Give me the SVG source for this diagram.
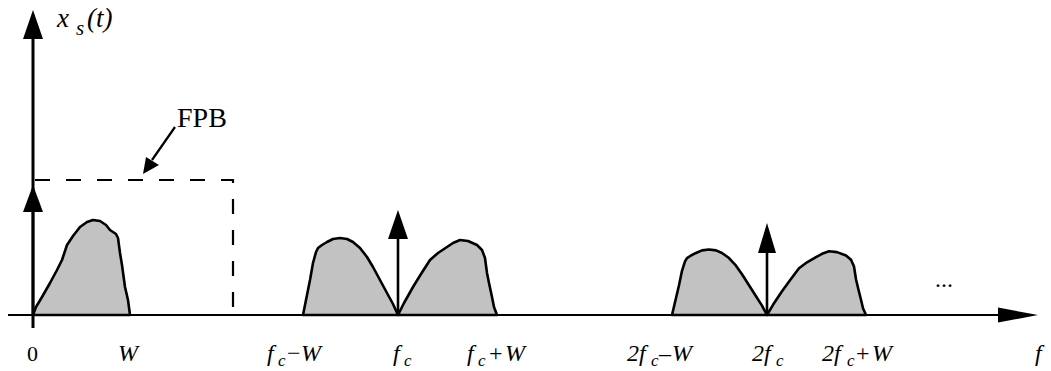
<svg xmlns="http://www.w3.org/2000/svg" width="1051" height="371" viewBox="0 0 1051 371">
<style>
.ax{stroke:#000;stroke-width:2.2;fill:none}
.lobe{fill:#c2c2c2;stroke:#000;stroke-width:2.6;stroke-linejoin:round}
.imp{stroke:#000;stroke-width:2.6;fill:none}
.head{fill:#000}
.t{font-family:"Liberation Serif","Times New Roman",serif;font-size:24px;fill:#000}
.i{font-style:italic}
.n{font-style:normal}
.sub{font-size:17px}
</style>
<rect width="1051" height="371" fill="#fff"/>
<g id="connectors">
  <g id="x-axis">
    <line class="ax" x1="8" y1="315" x2="1000" y2="315"/>
    <polygon class="head" points="1038,315 998,307.5 998,322.5"/>
  </g>
  <g id="y-axis">
    <line class="ax" x1="33" y1="328" x2="33" y2="38" style="stroke-width:3"/>
    <polygon class="head" points="33,10 23,39 43,39"/>
  </g>
  <g id="fpb-filter">
    <path d="M35,180 H233 V315" fill="none" stroke="#000" stroke-width="2.2" stroke-dasharray="15 16"/>
  </g>
  <g id="fpb-arrow">
    <line x1="175" y1="127" x2="152" y2="160" stroke="#000" stroke-width="2.2"/>
    <polygon class="head" points="143,174 146,157 159,165"/>
  </g>
</g>
<g id="lobe-0">
  <path class="lobe" d="M33,315 L36,307 L42,297 L50,283 L57,270 L62,260 L67,245 L73,236 L80,227 L87,222 L93,220 L100,221 L106,225 L110,230 L116,234 L118,238 L120,253 L122,265 L125,287 L128,300 L130,315 Z"/>
</g>
<g id="impulse-0">
  <line class="imp" x1="33" y1="315" x2="33" y2="210"/>
  <polygon class="head" points="33,185 23,212 43,212"/>
</g>
<g id="lobes-fc">
  <path class="lobe" d="M303,315 L307,295 L310,280 L313,263 L316,252 L318,248 L322,245 L327,242 L333,239 L340,238 L347,239 L353,242 L360,248 L367,257 L373,267 L380,280 L387,293 L393,304 L398,315 Z"/>
  <path class="lobe" d="M398,315 L404,303 L413,287 L421,274 L430,260 L438,253 L447,247 L453,243 L460,240 L468,241 L477,245 L482,250 L485,258 L487,273 L489,283 L492,297 L494,307 L497,315 Z"/>
</g>
<g id="impulse-fc">
  <line class="imp" x1="398" y1="315" x2="398" y2="236"/>
  <polygon class="head" points="398,210 388,239 408,239"/>
</g>
<g id="lobes-2fc" transform="translate(369,315) scale(1,0.85) translate(0,-315)">
  <path class="lobe" vector-effect="non-scaling-stroke" d="M303,315 L307,295 L310,280 L313,263 L316,252 L318,248 L322,245 L327,242 L333,239 L340,238 L347,239 L353,242 L360,248 L367,257 L373,267 L380,280 L387,293 L393,304 L398,315 Z"/>
  <path class="lobe" vector-effect="non-scaling-stroke" d="M398,315 L404,303 L413,287 L421,274 L430,260 L438,253 L447,247 L453,243 L460,240 L468,241 L477,245 L482,250 L485,258 L487,273 L489,283 L492,297 L494,307 L497,315 Z"/>
</g>
<g id="impulse-2fc">
  <line class="imp" x1="767" y1="315" x2="767" y2="250"/>
  <polygon class="head" points="767,223 758,253 776,253"/>
</g>
<g id="labels">
  <g id="label-xs"><text class="t i" x="57" y="27" style="font-size:27px">x<tspan class="sub" x="76" y="35" style="font-size:21px">s</tspan><tspan x="87" y="27">(t)</tspan></text></g>
  <g id="label-fpb"><text class="t" x="177" y="127" style="font-size:28px">FPB</text></g>
  <g id="label-0"><text class="t" x="27" y="361" style="font-size:22px">0</text></g>
  <g id="label-W"><text class="t i" x="118" y="361">W</text></g>
  <g id="label-fc-minus"><text class="t i" x="267" y="361">f<tspan class="sub" x="278" y="366">c</tspan><tspan class="n" x="287" y="361">−</tspan><tspan x="301" y="361">W</tspan></text></g>
  <g id="label-fc"><text class="t i" x="393" y="361">f<tspan class="sub" x="404" y="366">c</tspan></text></g>
  <g id="label-fc-plus"><text class="t i" x="467" y="361">f<tspan class="sub" x="478" y="366">c</tspan><tspan class="n" x="489" y="361">+</tspan><tspan x="505" y="361">W</tspan></text></g>
  <g id="label-2fc-minus"><text class="t i" x="627" y="361">2f<tspan class="sub" x="651" y="366">c</tspan><tspan class="n" x="659" y="361">–</tspan><tspan x="672" y="361">W</tspan></text></g>
  <g id="label-2fc"><text class="t i" x="752" y="361">2f<tspan class="sub" x="776" y="366">c</tspan></text></g>
  <g id="label-2fc-plus"><text class="t i" x="822" y="361">2f<tspan class="sub" x="847" y="366">c</tspan><tspan class="n" x="856" y="361">+</tspan><tspan x="872" y="361">W</tspan></text></g>
  <g id="label-f"><text class="t i" x="1035" y="361">f</text></g>
  <g id="label-dots"><text class="t" x="935" y="287">...</text></g>
</g>
</svg>
